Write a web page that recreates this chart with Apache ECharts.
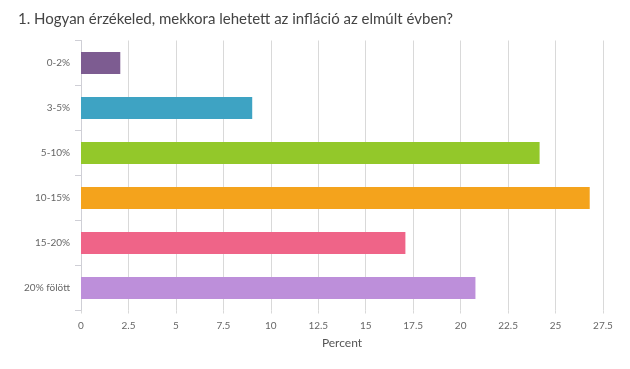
<!DOCTYPE html>
<html>
<head>
<meta charset="utf-8">
<script src="https://cdn.jsdelivr.net/npm/echarts@6/dist/echarts.min.js"></script>
<style>html,body{margin:0;padding:0;background:#fff}#c{width:630px;height:369px}</style>
</head>
<body>
<div id="c"></div>
<script>
const categories = ["0-2%", "3-5%", "5-10%", "10-15%", "15-20%", "20% fölött"];
const values = [2.07, 9.02, 24.16, 26.8, 17.09, 20.78];
const colors = ["#7d5c91", "#3ea3c3", "#93c82a", "#f4a31c", "#ef6488", "#bd8fda"];
const xTicks = [0, 2.5, 5, 7.5, 10, 12.5, 15, 17.5, 20, 22.5, 25, 27.5];

const chart = echarts.init(document.getElementById('c'));
chart.setOption({
  animation: false,
  backgroundColor: '#fff',
  title: {
    text: '1. Hogyan érzékeled, mekkora lehetett az infláció az elmúlt évben?',
    left: 13, top: 7,
    textStyle: {fontFamily: 'Lato', fontWeight: 'normal', fontSize: 15, color: '#444'}
  },
  grid: {left: 81, right: 27, top: 40.5, bottom: 58.5},
  xAxis: {
    type: 'value', min: 0, max: xTicks[xTicks.length - 1], interval: 2.5,
    name: 'Percent', nameLocation: 'middle', nameGap: 27,
    nameTextStyle: {fontFamily: 'Lato', fontSize: 12, color: '#555'},
    axisLine: {show: false},
    axisTick: {show: true, length: 3, lineStyle: {color: '#d9d9d9'}},
    axisLabel: {fontFamily: 'Lato', fontSize: 10, color: '#666', margin: 10},
    splitLine: {show: true, lineStyle: {color: '#d9d9d9', width: 1}}
  },
  yAxis: {
    type: 'category', data: categories, inverse: true,
    axisLine: {show: true, lineStyle: {color: '#cfcfd6'}},
    axisTick: {show: true, length: 6, lineStyle: {color: '#cfcfd6'}},
    axisLabel: {fontFamily: 'Lato', fontSize: 10, color: '#666', margin: 11}
  },
  series: [{
    type: 'bar',
    data: values.map((v, i) => ({value: v, itemStyle: {color: colors[i]}})),
    barWidth: 22
  }]
});
</script>
</body>
</html>
